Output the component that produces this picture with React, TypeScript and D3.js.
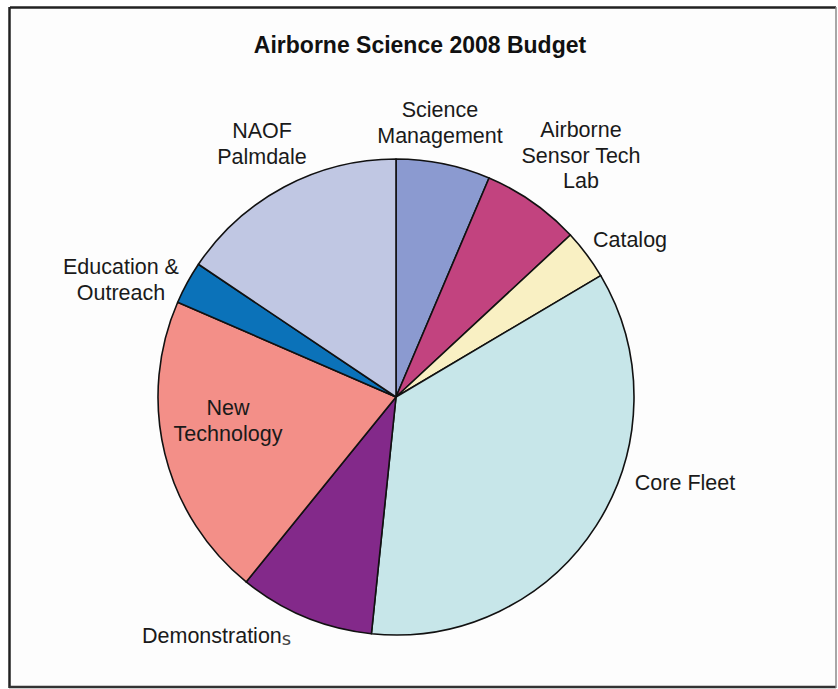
import * as d3 from 'd3'

const categories = [
  'Science Management',
  'Airborne Sensor Tech Lab',
  'Catalog',
  'Core Fleet',
  'Demonstrations',
  'New Technology',
  'Education & Outreach',
  'NAOF Palmdale',
]
const shares = [6.4, 6.7, 3.4, 35.2, 9.2, 20.7, 2.9, 15.6]
const labelLines = [
  ['Science', 'Management'],
  ['Airborne', 'Sensor Tech', 'Lab'],
  ['Catalog'],
  ['Core Fleet'],
  ['Demonstration'],
  ['New', 'Technology'],
  ['Education &', 'Outreach'],
  ['NAOF', 'Palmdale'],
]
const sliceColors = ['#8b9ad0', '#c2437f', '#f9f0c3', '#c7e6e9', '#83298a', '#f38f88', '#0b72b9', '#c0c7e3']

// label anchor (x, first baseline y) — layout only
const labelAt: [number, number][] = [
  [440, 117],
  [581, 137],
  [630, 247],
  [685, 490],
  [142, 643],
  [228, 415],
  [121, 274],
  [262, 138],
]

const W = 838
const H = 689
const cx = 396
const cy = 397
const R = 238

export default function App() {
  const rows = categories.map((c, i) => ({ name: c, value: shares[i] }))
  const pie = d3.pie<{ name: string; value: number }>().sort(null).value((d) => d.value)
  const arc = d3.arc<d3.PieArcDatum<{ name: string; value: number }>>().innerRadius(0).outerRadius(R)
  const arcs = pie(rows)

  return (
    <svg
      width={W}
      height={H}
      style={{ position: 'absolute', left: 0, top: 0, display: 'block', fontFamily: '"Liberation Sans", Arial, sans-serif' }}
    >
      <rect x={0} y={0} width={W} height={H} fill="#ffffff" />
      <rect x={10} y={8} width={825} height={678} fill="#fdfdfd" />
      {/* frame */}
      <line x1={10} y1={7.5} x2={836} y2={7.5} stroke="#222" strokeWidth={2.5} />
      <line x1={9.5} y1={7} x2={9.5} y2={688} stroke="#222" strokeWidth={2.5} />
      <line x1={9} y1={687} x2={836} y2={687} stroke="#333" strokeWidth={2.5} />
      <line x1={836} y1={7} x2={836} y2={688} stroke="#8a8a8a" strokeWidth={1.5} />

      <text x={420} y={53} textAnchor="middle" fontSize={23} fontWeight="bold" fill="#111">
        Airborne Science 2008 Budget
      </text>

      <g transform={`translate(${cx},${cy})`}>
        {arcs.map((a, i) => (
          <path key={categories[i]} d={arc(a) ?? ''} fill={sliceColors[i]} stroke="#111" strokeWidth={1.6} strokeLinejoin="round" />
        ))}
      </g>

      {labelLines.map((lines, i) => (
        <text
          key={categories[i]}
          x={labelAt[i][0]}
          y={labelAt[i][1]}
          textAnchor={i === 4 ? 'start' : 'middle'}
          fontSize={21.5}
          fill="#1a1a1a"
        >
          {lines.map((ln, j) => (
            <tspan key={j} x={labelAt[i][0]} dy={j === 0 ? 0 : 25.5}>
              {ln}
              {i === 4 && (
                <tspan fontFamily="DejaVu Sans" fontSize={18} fill="#444" dy={2}>
                  {'s'}
                </tspan>
              )}
            </tspan>
          ))}
        </text>
      ))}
    </svg>
  )
}
